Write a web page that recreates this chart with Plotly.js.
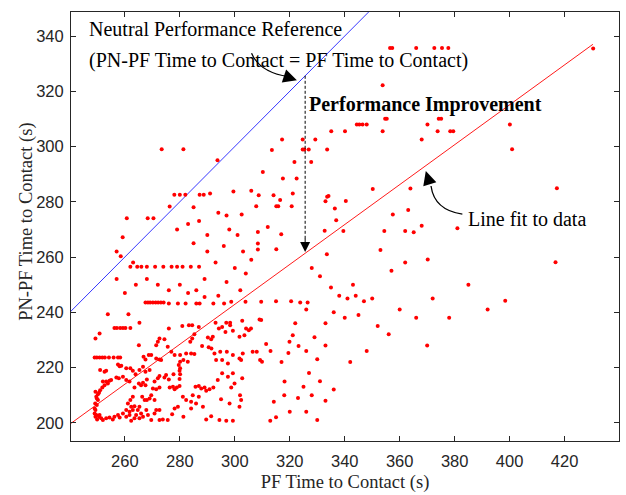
<!DOCTYPE html>
<html><head><meta charset="utf-8">
<script src="https://cdn.plot.ly/plotly-3.0.1.min.js"></script>
<style>html,body{margin:0;padding:0;background:#fff}#chart{width:626px;height:495px}</style>
</head><body><div id="chart"></div>
<script>
// PF Time to Contact (s)
const pfTime = [
356.5,357.3,366,372.6,375.4,377.7,430.4,353.8,354.7,355.3,374.2,375.1,400.1,400.9,
344.4,345.3,346.5,348,370.1,335.1,340.1,353.8,373.8,378.4,379.5,317.2,324.7,329.3,368,
313.5,324.7,325.3,326.9,333.6,321.7,327.8,310.2,317.5,322.5,308.7,314.1,315.1,315.8,307.8,316.5,321.1,320.7,
333.6,334.1,333,340.4,350.2,363.9,336.4,336.9,357.5,363.1,368,354.4,362,365.1,339.5,332.7,308.4,312,316.9,
308.4,308.4,315.1,333.5,353,370.2,417.2,416.7,398.4,381,
328,331,335,338,341,344,347,350,343,336,340,333,345,352,356,329,333,326,330,327,331,325,328,333,326,330,323,320,315,318,336,342,348,360,366,372,378,385,392,357,362,317,313,322,326,370,
258.5,259.2,268.3,270.4,260.7,273.4,281.3,293.7,278,280,282,287.2,288.7,276.3,299.5,306,302.5,
262,264.5,266,268,271,274,277,279,281,284,287,
257,263,285,290,293,296,298,301,303,306,300,297,289,286,280,283,276,272,268,264,260,257,279,283,287,290,294,297,291,285,304,302,294,289,
267.5,268.4,269.2,270.2,271.2,272.1,273.1,274.1,276,279.3,282.1,286,287.2,292.2,296.1,298.7,303.9,309.6,315,320.5,323.8,326.5,
253.8,261.3,265.3,256.2,257.1,258.3,259.3,260.2,262,249.3,250.8,276,280.9,283.3,284.5,286.9,
293,296.9,298.3,298.3,295.4,299.3,296.6,294.2,302.7,304.1,303.5,301.7,305.1,305.9,309,309.6,
311.4,319.9,321.1,323.2,319.5,285.3,284.5,283.8,290.2,291.4,292,288.1,291.5,290.5,
272,272.6,274.4,271.4,275.6,276.9,278.1,280.1,282.3,284.1,285.3,281.3,282.9,280.1,279.6,280.1,279.9,280.1,277.7,279.9,
265.1,268.7,269.6,272.6,273.2,271.4,266.8,267.5,262,260.5,262.9,263.9,265.3,266.6,267.5,269,
249,249.8,250.8,251.8,252.7,254.2,255.9,257.5,258.3,258.1,258.7,257.5,251,252.6,253.2,252,253.2,254.4,255,250.2,249.3,
256.9,257.8,259.3,260.5,261.7,263.5,265.1,265.9,266.6,268,267.5,270.8,272,272.6,274.4,275,276,276.3,277.5,278.1,278.9,279.9,
270.2,271.4,272.6,269.6,269,270.8,266.3,267.2,268,262.9,262,261.1,262.3,263.5,260.5,261.7,262.9,264.7,265.9,265.3,
259.3,257.5,256.2,254.4,253.2,251.4,250.6,249.6,249,249.3,249.8,250.2,249,249.2,249.6,249.9,252,255.6,258.1,260.5,261.7,251,251.8,250.6,249.8,252.6,253.8,249.3,250.8,
284.7,285.7,286.9,287.8,289,289.6,290.8,292.2,293.8,295.4,295.4,293.2,294.7,292.6,297.1,299.3,301.7,302.9,297.5,302.3,299.3,301.9,301.7,302.3,295,298.1,298.7,299.9,297.5,302.7,
306.5,308,309.9,309.2,314.2,318.1,281.1,282.3,284.1,285.9,286.9,284.1,288.4,279.3,278.1,277.2,281.3,289.6,291.4,294.4,296.9,299.3,312.9,
271.4,272.6,270.8,269.6,272.6,273.8,275.6,267.8,268.4,266.6,265.3,264.1,263.5,262.3
];
// PN-PF Time to Contact (s)
const pnpfTime = [
335.7,335.7,335.7,335.7,335.7,335.7,335.5,322.2,310.1,310.1,310.1,310.1,308,299,
308,308,308,308,308,305.5,305.5,305.5,305.5,305.5,305.5,302.5,302.5,302.5,302.5,
298.7,298.9,298.9,298.9,298.9,294.4,294.4,290.8,288.4,288.4,282.4,282.4,278.4,278.4,278.4,280.6,283,278.4,
281.8,282.1,280.2,280.3,284.6,284.8,277.6,273.3,275.4,277,271.3,269.4,269.4,269,269.4,269.5,269.1,270.9,268.2,
264.9,262.7,262.8,261,262.5,259.1,284.9,258.1,244.2,270.4,
256,253,249,246,245,246,244,245,250,240,238,236,239,235,232,231,228,226,223,218,215,213,210,208,204,201,209,204,202,210,212,222,226,241,238,245,238,250,241,255,258,222,226,236,241,228,
260.3,267.2,274,274,274,299,299,295,282.5,282.5,282.5,282.5,282.5,278.3,283.7,284,275.4,
256.5,256.5,256.5,256.5,256.5,256.5,256.5,256.5,256.5,256.5,256.5,
262,258,265,262,258,264,270,268,262,259,256,251,252,248,250,247,248,250,252,250,247,252,270,272,273,268,276,275,283,278,254,248,246,245.5,
243.5,243.5,243.5,243.5,243.5,243.5,243.5,243.5,243.2,243.2,243.2,243.2,243.2,243.2,243.2,243.8,243.8,243.8,244,244,243.5,243.5,
239.3,239.3,236.2,234.3,234.3,234.3,234.3,234.3,234.3,230.5,232.3,234.1,235,235.3,235.3,234.7,
236.2,236.2,236.2,235.3,234.7,233.3,232.9,234.1,236.9,234.1,231.7,231.1,233.5,234.1,237.4,237.2,
228.5,229.3,231.7,227.8,225.3,232,230.5,229.3,230.9,230.2,231.1,227.8,226.9,227.3,
229.3,230.5,230.2,228.1,227.5,225.7,224.5,224.5,225.1,225.1,224.9,222.7,222.1,222.1,220.9,219.7,218.8,217.6,217.6,215.8,
228.1,224.5,224.5,222.9,222.7,223.3,223.9,222.9,219.7,219.7,218.8,217.6,219.1,220.3,218.5,219.1,
223.6,223.6,223.6,223.6,223.6,223.6,223.6,223.6,223.6,220.5,220.6,221.1,219.1,218.5,218.8,214.9,214.9,215.2,215.5,210.3,211.2,
216.4,216.1,216.7,215.5,214.9,212.8,214.2,213.6,214.5,215.7,213.6,214.9,216.1,216.9,216.4,217.3,215.7,212.8,213,212.1,212.8,213.3,
212.4,212.1,212.8,210,208.8,208.2,209.4,208.2,208.2,209.4,208.2,207,205.8,206,204.6,204,204.6,204.6,203.4,205.8,
203.4,202.8,202.2,201.9,201.6,201.6,202.2,202.8,203.4,204.6,206.4,208.2,205.2,207,209.4,201.2,201,201.2,201.9,202.2,202.8,211.8,212.8,210.9,208.8,213.6,214.2,202.2,202.8,
210,213,213.3,212.4,212.8,211.6,212.1,212.8,215.5,217.9,222.7,222.7,225.7,225.1,225.7,224.5,223.3,225.1,221.5,222.7,217.9,210,205.8,208.2,208.5,207,212.8,214.2,216.7,216.1,
225.7,225.7,222.1,222.7,207.6,214.9,209.4,208.2,207.6,207,209.4,205.2,205.8,205.8,205.2,203.1,202.2,201.2,202.4,201,200.7,200.7,200.7,
204.6,204.6,203.4,201,201,201.2,201,204.6,202.8,202.2,201.6,202.8,201.6,200.7
];
// Linear fit line endpoints and neutral (y = x) reference
const fitX = [240.4, 430.3];
const fitY = [199.8, 337.0];
const refX = [240, 350];
const refY = [240, 350];
const xTicks = [260, 280, 300, 320, 340, 360, 380, 400, 420];
const yTicks = [200, 220, 240, 260, 280, 300, 320, 340];

const serif = 'Liberation Serif, Times New Roman, serif';
const sans = 'Liberation Sans, Arial, sans-serif';
const axisCol = '#262626';

const traces = [
  {x: refX, y: refY, mode: 'lines', line: {color: '#2020ff', width: 0.9}, hoverinfo: 'skip', showlegend: false},
  {x: fitX, y: fitY, mode: 'lines', line: {color: '#ff0000', width: 0.9}, hoverinfo: 'skip', showlegend: false},
  {x: pfTime, y: pnpfTime, mode: 'markers', marker: {color: '#ff0000', size: 4}, showlegend: false}
];

const axisBase = {
  showgrid: false, zeroline: false, showline: true, linecolor: axisCol, linewidth: 1,
  mirror: 'ticks', ticks: 'inside', ticklen: 5, tickwidth: 1, tickcolor: axisCol,
  tickfont: {family: sans, size: 16.5, color: axisCol}, tickmode: 'array'
};

const layout = {
  width: 626, height: 495,
  margin: {l: 71, r: 7, t: 12, b: 54},
  paper_bgcolor: '#fff', plot_bgcolor: '#fff',
  xaxis: Object.assign({}, axisBase, {
    range: [240.4, 439.8], tickvals: xTicks, ticktext: xTicks.map(String), ticklabelstandoff: 5,
    title: {text: 'PF Time to Contact (s)', font: {family: serif, size: 18.5, color: axisCol}, standoff: 6}
  }),
  yaxis: Object.assign({}, axisBase, {
    range: [193.4, 348.7], tickvals: yTicks, ticktext: yTicks.map(String), ticklabelstandoff: 3
  }),
  shapes: [
    {type: 'line', xref: 'x', yref: 'y', x0: 325.6, y0: 325.6, x1: 325.6, y1: 266,
     line: {color: '#000', width: 1, dash: '3px,2px'}},
    {type: 'path', xref: 'x', yref: 'y', path: 'M306.1,333.8 Q309.0,326.9 319.5,325.3',
     line: {color: '#000', width: 1.3}},
    {type: 'path', xref: 'x', yref: 'y', path: 'M382.8,275.5 Q372.6,277.0 371.4,285.7',
     line: {color: '#000', width: 1.3}}
  ],
  annotations: [
    {x: -0.081, y: 0.51, xref: 'paper', yref: 'paper', text: 'PN-PF Time to Contact (s)', showarrow: false,
     textangle: -90, xanchor: 'center', yanchor: 'middle', font: {family: serif, size: 18.5, color: axisCol}},
    {x: 246.1, y: 342.4, xref: 'x', yref: 'y', text: 'Neutral Performance Reference', showarrow: false,
     xanchor: 'left', yanchor: 'middle', font: {family: serif, size: 20, color: '#000'}},
    {x: 246.1, y: 331.2, xref: 'x', yref: 'y', text: '(PN-PF Time to Contact = PF Time to Contact)', showarrow: false,
     xanchor: 'left', yanchor: 'middle', font: {family: serif, size: 20, color: '#000'}},
    {x: 326.1, y: 315.3, xref: 'x', yref: 'y', text: '<b>Performance Improvement</b>', showarrow: false,
     xanchor: 'left', yanchor: 'middle', font: {family: serif, size: 20, color: '#000'}},
    {x: 384.0, y: 273.7, xref: 'x', yref: 'y', text: 'Line fit to data', showarrow: false,
     xanchor: 'left', yanchor: 'middle', font: {family: serif, size: 20, color: '#000'}},
    {x: 325.6, y: 261.8, xref: 'x', yref: 'y', text: '', showarrow: true, ax: 0, ay: -15,
     arrowhead: 2, arrowsize: 2, arrowwidth: 1, arrowcolor: '#000'},
    {x: 322.6, y: 324.0, xref: 'x', yref: 'y', text: '', showarrow: true, ax: -12, ay: -4,
     arrowhead: 2, arrowsize: 2.1, arrowwidth: 1.3, arrowcolor: '#000'},
    {x: 369.5, y: 291.1, xref: 'x', yref: 'y', text: '', showarrow: true, ax: 4, ay: 13,
     arrowhead: 2, arrowsize: 2.1, arrowwidth: 1.3, arrowcolor: '#000'}
  ]
};

Plotly.newPlot('chart', traces, layout, {displayModeBar: false, staticPlot: true});
</script>
</body></html>
